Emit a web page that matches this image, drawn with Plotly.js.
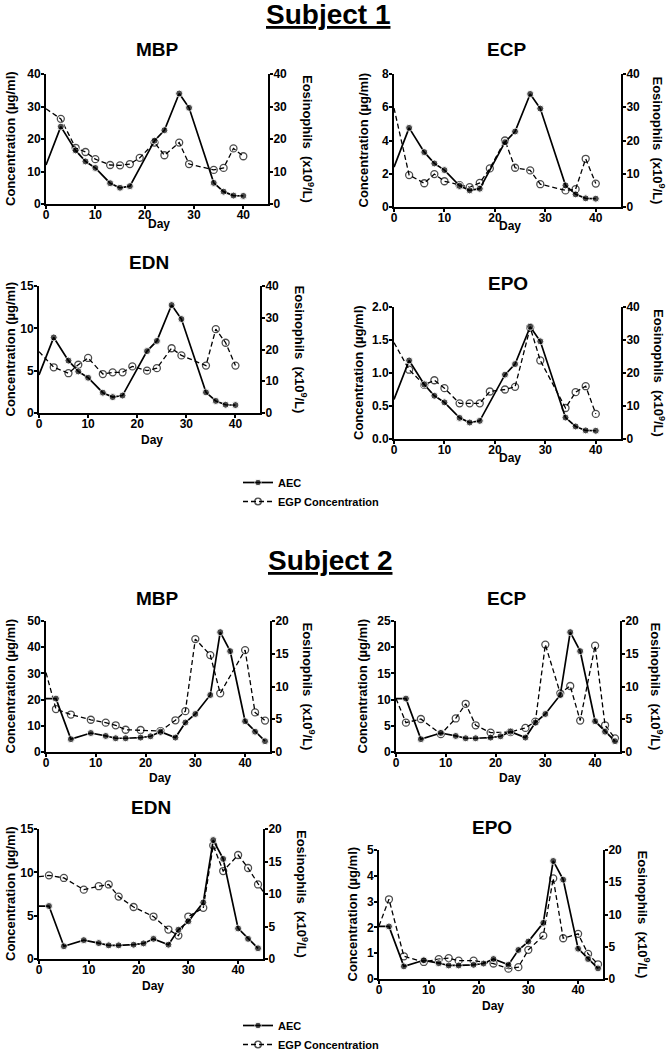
<!DOCTYPE html>
<html><head><meta charset="utf-8">
<script src="https://cdn.plot.ly/plotly-3.0.1.min.js"></script>
<style>html,body{margin:0;background:#fff;overflow:hidden}#chart{width:667px;height:1066px}</style>
</head><body><div id="chart"></div>
<script>
// ---------------- DATA ----------------
const proteins = ['MBP', 'ECP', 'EDN', 'EPO'];
const subjects = ['Subject 1', 'Subject 2'];
const seriesNames = ['AEC', 'EGP Concentration'];

// Subject 1 – AEC (x10^9/L, right axis)
const s1AecDays = [0, 3, 6, 8, 10, 13, 15, 17, 22, 24, 27, 29, 34, 36, 38, 40];
const s1Aec = [12, 23.8, 16.5, 13.1, 11.1, 6.4, 5.0, 5.5, 19.5, 22.7, 34, 29.6, 6.5, 3.8, 2.6, 2.5];

// Subject 1 – EGP concentrations (µg/ml, left axis)
const s1EgpDays = [0, 3, 6, 8, 10, 13, 15, 17, 19, 22, 24, 27, 29, 34, 36, 38, 40];
const s1MBP = [29.3, 26.2, 17.3, 16, 13.8, 12, 11.9, 12.3, 14.2, 18.9, 15, 18.9, 12.3, 10.5, 11.1, 17.1, 14.7];
const s1ECP = [5.95, 1.92, 1.43, 1.98, 1.55, 1.31, 1.19, 1.45, 2.32, 4.0, 2.36, 2.2, 1.37, 1.0, 1.07, 2.9, 1.41];
const s1EDN = [7.25, 5.4, 4.7, 5.7, 6.5, 4.6, 4.8, 4.8, 5.5, 5.0, 5.3, 7.65, 6.8, 5.6, 9.9, 8.3, 5.6];
const s1EPO = [1.46, 1.05, 0.82, 0.89, 0.77, 0.54, 0.54, 0.54, 0.72, 0.75, 0.79, 1.69, 1.19, 0.47, 0.71, 0.8, 0.38];

// Subject 2 – AEC
const s2AecDays = [0, 2, 5, 9, 12, 14, 16, 19, 21, 23, 26, 28, 30, 33, 35, 37, 40, 42, 44];
const s2Aec = [8.15, 8.15, 1.96, 2.9, 2.45, 2.1, 2.1, 2.2, 2.4, 3.1, 2.2, 4.5, 5.8, 8.7, 18.3, 15.4, 4.7, 3.1, 1.65];

// Subject 2 – EGP concentrations
const s2MBPDays = [0, 2, 5, 9, 12, 14, 16, 19, 23, 26, 28, 30, 33, 35, 40, 42, 44];
const s2MBP = [30.3, 16.4, 14.3, 12.3, 11.2, 10.2, 8.5, 8.4, 8.0, 12.1, 15.6, 43.1, 37, 22.4, 38.9, 15.1, 12.0];
const s2ECPDays = [0, 2, 5, 9, 12, 14, 16, 19, 23, 26, 28, 30, 33, 35, 37, 40, 42, 44];
const s2ECP = [10.2, 5.6, 6.3, 3.4, 6.4, 9.2, 5.1, 3.7, 3.8, 4.6, 5.8, 20.5, 11.2, 12.6, 6.0, 20.3, 5.1, 2.6];
const s2EDNDays = [0, 2, 5, 9, 12, 14, 16, 19, 23, 26, 28, 30, 33, 35, 37, 40, 42, 44, 45];
const s2EDN = [9.5, 9.65, 9.35, 8.0, 8.4, 8.6, 7.2, 6.0, 4.9, 3.4, 2.7, 4.9, 5.9, 13.1, 10.15, 12.0, 10.5, 8.6, 7.8];
const s2EPODays = [0, 2, 5, 9, 12, 14, 16, 19, 23, 26, 28, 30, 33, 35, 37, 40, 42, 44];
const s2EPO = [2.06, 3.09, 0.88, 0.66, 0.77, 0.81, 0.71, 0.71, 0.6, 0.4, 0.46, 1.13, 1.68, 3.9, 1.58, 1.75, 0.97, 0.57];

// axis ranges / ticks
const leftMax = [40, 8, 15, 2, 50, 25, 15, 5];
const leftDtick = [10, 2, 5, 0.5, 10, 5, 5, 1];
const rightMax = [40, 40, 40, 40, 20, 20, 20, 20];
const rightDtick = [10, 10, 10, 10, 5, 5, 5, 5];
const dayTicks = [0, 10, 20, 30, 40];

// ---------------- BUILD ----------------
const W = 667, H = 1066;   // drawn slightly taller than the 1050 window so the 2nd legend can sit low
const egpSets = [
  [s1EgpDays, s1MBP], [s1EgpDays, s1ECP], [s1EgpDays, s1EDN], [s1EgpDays, s1EPO],
  [s2MBPDays, s2MBP], [s2ECPDays, s2ECP], [s2EDNDays, s2EDN], [s2EPODays, s2EPO]
];
const aecSets = [[s1AecDays, s1Aec], [s2AecDays, s2Aec]];

// panel geometry (pixels)
const boxes = [
  {x0: 46, x1: 268, yt: 74, yb: 204, tx: 157, ty: 50, dayY: 224, lx: 10, rx: 308},
  {x0: 394, x1: 621, yt: 74, yb: 207, tx: 507, ty: 50, dayY: 226, lx: 363, rx: 659},
  {x0: 39, x1: 260, yt: 286, yb: 413, tx: 149, ty: 263, dayY: 440, lx: 10, rx: 301},
  {x0: 394, x1: 621, yt: 307, yb: 439, tx: 508, ty: 283, dayY: 458, lx: 358, rx: 659},
  {x0: 46, x1: 270, yt: 621, yb: 752, tx: 157, ty: 598, dayY: 778, lx: 10, rx: 309},
  {x0: 396, x1: 620, yt: 621, yb: 752, tx: 507, ty: 598, dayY: 778, lx: 362, rx: 657},
  {x0: 39, x1: 263, yt: 829, yb: 959, tx: 151, ty: 807, dayY: 986, lx: 10, rx: 302},
  {x0: 379, x1: 603, yt: 850, yb: 979, tx: 492, ty: 827, dayY: 1006, lx: 352, rx: 644}
];

const FONT = 'Liberation Sans, Arial, sans-serif';
const px = v => v / W, py = v => 1 - v / H;
const sizesFor = days => days.map(d => (d === 0 || d === 45) ? 0 : 7);

const traces = [];
const legendStyle = {
  xanchor: 'left', yanchor: 'top', bgcolor: 'rgba(0,0,0,0)', tracegroupgap: 0,
  font: {family: FONT, size: 11, weight: 'bold', color: '#000'}
};
const layout = {
  width: W, height: H,
  margin: {l: 0, r: 0, t: 0, b: 0},
  paper_bgcolor: '#fff', plot_bgcolor: 'rgba(0,0,0,0)',
  font: {family: FONT, color: '#000', size: 12},
  annotations: [],
  legend: Object.assign({x: px(238), y: py(468)}, legendStyle),
  legend2: Object.assign({x: px(238), y: py(1011)}, legendStyle)
};

const axisBase = {
  showgrid: false, zeroline: false, showline: true, linecolor: '#000', linewidth: 2,
  ticks: 'outside', ticklen: 3, tickwidth: 2, tickcolor: '#000',
  tickfont: {family: FONT, size: 12, weight: 'bold', color: '#000'},
  fixedrange: true
};

boxes.forEach((b, i) => {
  const xa = 'x' + (i + 1);
  const yl = 'y' + (2 * i + 1);
  const yr = 'y' + (2 * i + 2);
  const subj = i < 4 ? 0 : 1;
  const legendId = subj === 0 ? 'legend' : 'legend2';
  const showL = (i === 0 || i === 4);

  layout['xaxis' + (i + 1)] = Object.assign({}, axisBase, {
    domain: [px(b.x0), px(b.x1)], range: [0, 45], anchor: yl,
    tickmode: 'array', tickvals: dayTicks, ticktext: dayTicks.map(String),
    ticklabelstandoff: -4
  });
  layout['yaxis' + (2 * i + 1)] = Object.assign({}, axisBase, {
    domain: [py(b.yb), py(b.yt)], range: [0, leftMax[i]], dtick: leftDtick[i], tick0: 0,
    anchor: xa, side: 'left', tickformat: leftDtick[i] < 1 ? '.1f' : '',
    ticklabelstandoff: -2
  });
  layout['yaxis' + (2 * i + 2)] = Object.assign({}, axisBase, {
    domain: [py(b.yb), py(b.yt)], range: [0, rightMax[i]], dtick: rightDtick[i], tick0: 0,
    anchor: xa, side: 'right', overlaying: yl, ticklabelstandoff: -2
  });

  const [ed, ev] = egpSets[i];
  traces.push({
    type: 'scatter', mode: 'lines+markers', name: seriesNames[1],
    x: ed, y: ev, xaxis: xa, yaxis: yl,
    line: {color: '#000', width: 1.3, dash: '5px,3px'},
    marker: {symbol: 'circle-open', size: sizesFor(ed), color: '#000', line: {width: 1.3, color: '#000'}},
    showlegend: showL, legend: legendId, legendrank: 2, hoverinfo: 'skip'
  });
  const [ad, av] = aecSets[subj];
  traces.push({
    type: 'scatter', mode: 'lines+markers', name: seriesNames[0],
    x: ad, y: av, xaxis: xa, yaxis: yr,
    line: {color: '#000', width: 1.7},
    marker: {symbol: 'circle', size: sizesFor(ad), color: '#000'},
    showlegend: showL, legend: legendId, legendrank: 1, hoverinfo: 'skip'
  });

  const ann = layout.annotations;
  const mid = (b.yt + b.yb) / 2;
  ann.push({text: '<b>' + proteins[i % 4] + '</b>', x: px(b.tx), y: py(b.ty), xref: 'paper', yref: 'paper',
    showarrow: false, xanchor: 'center', yanchor: 'middle', font: {family: FONT, size: 19, color: '#000'}});
  ann.push({text: '<b>Day</b>', x: px((b.x0 + b.x1) / 2 + 2), y: py(b.dayY), xref: 'paper', yref: 'paper',
    showarrow: false, xanchor: 'center', yanchor: 'middle', font: {family: FONT, size: 12, color: '#000'}});
  ann.push({text: '<b>Concentration (µg/ml)</b>', x: px(b.lx), y: py(mid), xref: 'paper', yref: 'paper',
    showarrow: false, xanchor: 'center', yanchor: 'middle', textangle: -90, font: {family: FONT, size: 13, color: '#000'}});
  ann.push({text: '<b>Eosinophils  (x10<sup>9</sup>/L)</b>', x: px(b.rx), y: py(mid), xref: 'paper', yref: 'paper',
    showarrow: false, xanchor: 'center', yanchor: 'middle', textangle: 90, font: {family: FONT, size: 13, color: '#000'}});
});

layout.annotations.push({text: '<b><u>' + subjects[0] + '</u></b>', x: px(328), y: py(15), xref: 'paper', yref: 'paper',
  showarrow: false, xanchor: 'center', yanchor: 'middle', font: {family: FONT, size: 28, color: '#000'}});
layout.annotations.push({text: '<b><u>' + subjects[1] + '</u></b>', x: px(330), y: py(560), xref: 'paper', yref: 'paper',
  showarrow: false, xanchor: 'center', yanchor: 'middle', font: {family: FONT, size: 28, color: '#000'}});

Plotly.newPlot('chart', traces, layout, {displayModeBar: false, staticPlot: true});
</script>
</body></html>
